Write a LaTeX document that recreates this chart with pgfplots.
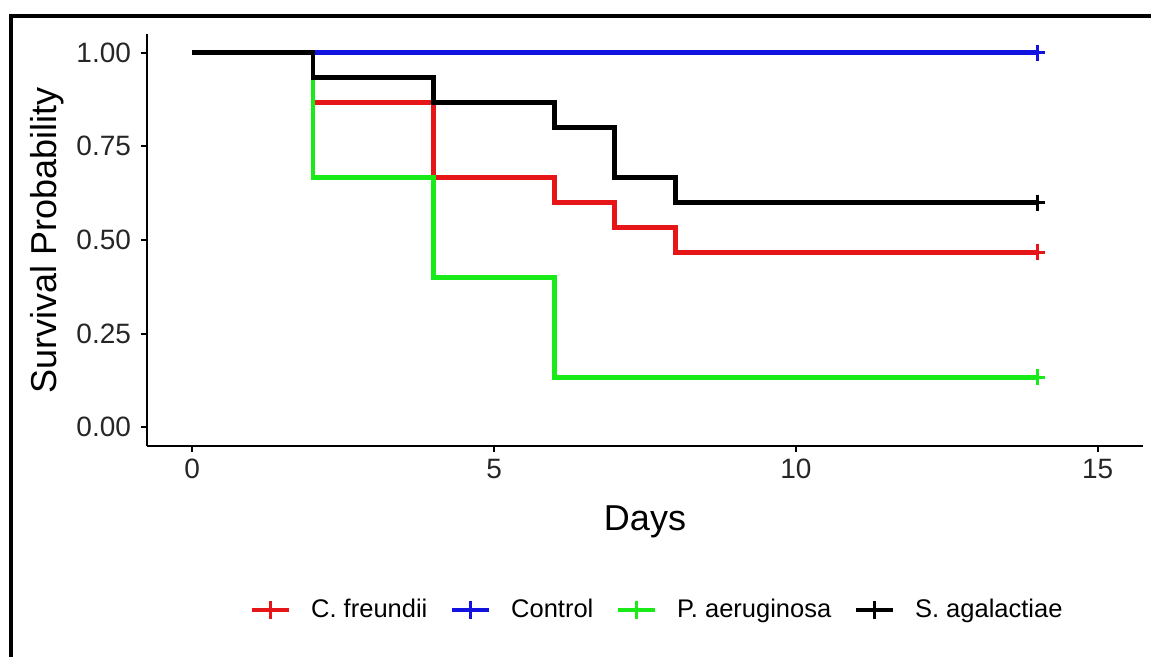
\documentclass[border=0pt]{standalone}
\usepackage{fontspec}
\setmainfont{Liberation Sans}
\usepackage{pgfplots}
\pgfplotsset{compat=1.18}

\definecolor{cfr}{RGB}{230,22,24}
\definecolor{ctl}{RGB}{18,18,225}
\definecolor{pae}{RGB}{24,235,24}

\begin{document}
\begin{tikzpicture}
\begin{axis}[
  at={(0,0)}, anchor=south west,
  scale only axis,
  width=498pt, height=206pt,
  xmin=-0.75, xmax=15.75,
  ymin=-0.05, ymax=1.05,
  axis x line=bottom, axis y line=left,
  axis line style={-, line width=1pt, black},
  xtick={0,5,10,15},
  ytick={0,0.25,0.5,0.75,1},
  yticklabel style={/pgf/number format/.cd, fixed, fixed zerofill, precision=2, /tikz/.cd, xshift=-1.5pt},
  /pgf/number format/assume math mode=true,
  tick align=outside,
  major tick length=3pt,
  tick style={line width=1pt, black},
  ticklabel style={font=\fontsize{14}{16}\selectfont, text=black!85},
  xlabel={Days},
  ylabel={Survival Probability},
  label style={font=\fontsize{18}{21}\selectfont},
  x label style={at={(axis description cs:0.5,-0.204)}, anchor=base},
  y label style={at={(axis description cs:-0.0904,0.5)}, anchor=base, rotate=0},
  legend columns=4,
  legend style={at={(axis description cs:0.513,-0.398)}, anchor=center,
    draw=none, fill=none, font=\fontsize{12.75}{15}\selectfont,
    /tikz/every odd column/.append style={column sep=8pt},
    /tikz/every even column/.append style={column sep=9pt}},
  legend image code/.code={
    \draw[#1] (0pt,0pt) -- (18.5pt,0pt);
    \draw[#1, line width=1.5pt] (9.25pt,-4.5pt) -- (9.25pt,4.5pt);
  },
  every axis plot/.append style={line width=2.4pt},
]
% C. freundii
\addplot[cfr, const plot mark left] coordinates {
  (0,1)(2,0.8667)(4,0.6667)(6,0.6)(7,0.5333)(8,0.4667)(14,0.4667)
};
\addlegendentry{C. freundii}
% Control
\addplot[ctl, const plot mark left] coordinates {
  (0,1)(14,1)
};
\addlegendentry{Control}
% P. aeruginosa
\addplot[pae, const plot mark left] coordinates {
  (0,1)(2,0.6667)(4,0.4)(6,0.1333)(14,0.1333)
};
\addlegendentry{P. aeruginosa}
% S. agalactiae
\addplot[black, const plot mark left] coordinates {
  (0,1)(2,0.9333)(4,0.8667)(6,0.8)(7,0.6667)(8,0.6)(14,0.6)
};
\addlegendentry{S. agalactiae}
% censoring marks
\addplot[cfr, only marks, mark=+, mark size=4pt, mark options={line width=1.5pt}, forget plot] coordinates {(14,0.4667)};
\addplot[ctl, only marks, mark=+, mark size=4pt, mark options={line width=1.5pt}, forget plot] coordinates {(14,1)};
\addplot[pae, only marks, mark=+, mark size=4pt, mark options={line width=1.5pt}, forget plot] coordinates {(14,0.1333)};
\addplot[black, only marks, mark=+, mark size=4pt, mark options={line width=1.5pt}, forget plot] coordinates {(14,0.6)};
\end{axis}
% outer frame (top and left edges only)
\draw[line width=2pt] (-68pt,-105.5pt) -- (-68pt,215pt) -- (502pt,215pt);
\pgfresetboundingbox
\useasboundingbox (-73.5pt,-105.5pt) rectangle (502pt,223pt);
\end{tikzpicture}
\end{document}
